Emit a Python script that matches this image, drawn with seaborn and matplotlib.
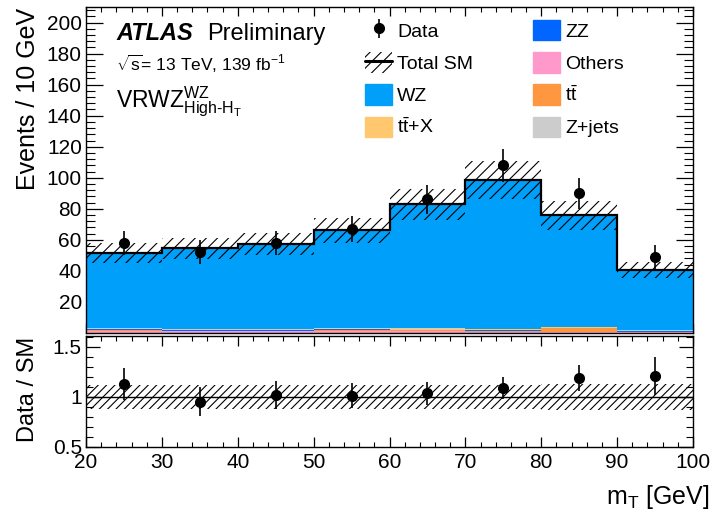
import numpy as np
import pandas as pd
import matplotlib
matplotlib.use("Agg")
import matplotlib.pyplot as plt
import seaborn as sns
from matplotlib.patches import Patch
from matplotlib.lines import Line2D
from matplotlib.ticker import MultipleLocator, FixedLocator, FuncFormatter

# ---------------- data ----------------
bin_edges = [20, 30, 40, 50, 60, 70, 80, 90, 100]
wz = [48.3, 52.0, 54.7, 62.9, 79.9, 96.2, 71.9, 38.6]
zz = [0.6, 0.6, 0.5, 0.4, 0.4, 0.5, 0.3, 0.6]
others = [1.2, 1.0, 1.0, 1.2, 1.0, 0.8, 0.5, 0.5]
ttbar = [0.5, 0.2, 0.3, 0.8, 0.8, 0.5, 2.4, 0.3]
ttx = [0.3, 0.4, 0.4, 0.5, 0.5, 0.6, 0.4, 0.2]
zjets = [0.4, 0.3, 0.2, 0.3, 0.2, 0.2, 0.2, 0.2]
sm_unc = [6.4, 6.8, 7.1, 8.0, 10.0, 12.3, 9.5, 5.2]
data = [58, 52, 58, 67, 86, 108, 90, 49]
data_err = [8.0, 7.7, 8.0, 8.5, 9.6, 10.8, 9.9, 7.7]

x_ticks = [20, 30, 40, 50, 60, 70, 80, 90, 100]
y_ticks = [20, 40, 60, 80, 100, 120, 140, 160, 180, 200]
ratio_ticks = [0.5, 1.0, 1.5]

lab_ttbar = r"$\mathregular{t\bar{t}}$"
lab_ttx = r"$\mathregular{t\bar{t}}$+X"
colors = {
    "WZ": "#009ffa",
    "ZZ": "#0066ff",
    "Others": "#ff99cc",
    "ttbar": "#ff9640",
    "ttX": "#ffc86e",
    "Z+jets": "#cccccc",
}
# first level drawn on top of the stack in seaborn
stack_order = ["WZ", "Z+jets", "ttX", "ZZ", "ttbar", "Others"]
procs = {"WZ": wz, "Z+jets": zjets, "ttX": ttx, "ZZ": zz, "ttbar": ttbar, "Others": others}

edges = np.array(bin_edges, dtype=float)
centers = 0.5 * (edges[:-1] + edges[1:])
rows = []
for name, vals in procs.items():
    for c, v in zip(centers, vals):
        rows.append({"mT": float(c), "events": float(v), "process": name})
df = pd.DataFrame(rows)

total = np.sum([np.array(v) for v in procs.values()], axis=0)
unc = np.array(sm_unc)
dat = np.array(data, dtype=float)
derr = np.array(data_err)

# ---------------- style ----------------
sns.set_style("ticks")
plt.rcParams["font.family"] = ["Liberation Sans", "DejaVu Sans"]
plt.rcParams["mathtext.fontset"] = "custom"
plt.rcParams["mathtext.rm"] = "Liberation Sans"
plt.rcParams["mathtext.it"] = "Liberation Sans:italic"
plt.rcParams["mathtext.bf"] = "Liberation Sans:bold"
plt.rcParams["hatch.linewidth"] = 0.8
plt.rcParams["hatch.color"] = "black"
for k in ["text.color", "axes.labelcolor", "xtick.color", "ytick.color", "axes.edgecolor"]:
    plt.rcParams[k] = "black"

W, H = 720, 514
def fx(px):
    return px / W
def fy(py):
    return 1 - py / H

fig = plt.figure(figsize=(7.2, 5.14), dpi=100)
ax = fig.add_axes([fx(86), fy(333), fx(693) - fx(86), fy(7) - fy(333)])
ax2 = fig.add_axes([fx(86), fy(447), fx(693) - fx(86), fy(336) - fy(447)])

# ---------------- main panel ----------------
sns.histplot(data=df, x="mT", weights="events", hue="process", hue_order=stack_order,
             palette=colors, bins=list(bin_edges), multiple="stack", element="step", fill=True,
             alpha=1, linewidth=0, legend=False, ax=ax)
ax.stairs(total + unc, edges, baseline=total - unc, fill=True, facecolor="none",
          edgecolor="black", hatch="///", linewidth=0, zorder=3)
ax.stairs(total, edges, baseline=None, color="black", linewidth=1.6, zorder=4)
h_data = ax.errorbar(centers, dat, yerr=derr, fmt="o", color="black", ms=7,
                     elinewidth=1.2, capsize=0, zorder=5)

ax.set_xlim(20, 100)
ax.set_ylim(0, 210)
ax.set_xlabel("")
ax.set_ylabel("")
ax.xaxis.set_major_locator(FixedLocator(x_ticks))
ax.xaxis.set_minor_locator(MultipleLocator(2))
ax.yaxis.set_major_locator(FixedLocator(y_ticks))
ax.yaxis.set_minor_locator(MultipleLocator(4))
ax.tick_params(which="both", direction="in", top=True, right=True)
ax.tick_params(axis="y", which="major", length=12, width=0.9, labelsize=15, pad=3)
ax.tick_params(axis="y", which="minor", length=6.3, width=0.8)
ax.tick_params(axis="x", which="major", length=6.5, width=0.9, labelbottom=False)
ax.tick_params(axis="x", which="minor", length=3.3, width=0.8)

# ---------------- ratio panel ----------------
rel = unc / total
ax2.stairs(1 + rel, edges, baseline=1 - rel, fill=True, facecolor="none",
           edgecolor="black", hatch="////", linewidth=0, zorder=2)
ax2.axhline(1.0, color="black", linewidth=1.0, zorder=3)
ax2.errorbar(centers, dat / total, yerr=derr / total, fmt="o", color="black", ms=7,
             elinewidth=1.2, capsize=0, zorder=5)
ax2.set_xlim(20, 100)
ax2.set_ylim(0.5, 1.61)
ax2.xaxis.set_major_locator(FixedLocator(x_ticks))
ax2.xaxis.set_minor_locator(MultipleLocator(2))
ax2.yaxis.set_major_locator(FixedLocator(ratio_ticks))
ax2.yaxis.set_minor_locator(MultipleLocator(0.1))
ax2.yaxis.set_major_formatter(FuncFormatter(lambda v, p: "%g" % v))
ax2.tick_params(which="both", direction="in", top=True, right=True)
ax2.tick_params(axis="y", which="major", length=10, width=0.9, labelsize=15, pad=3)
ax2.tick_params(axis="y", which="minor", length=5, width=0.8)
ax2.tick_params(axis="x", which="major", length=7, width=0.9, labelsize=15, pad=4)
ax2.tick_params(axis="x", which="minor", length=3.5, width=0.8)

for a in (ax, ax2):
    for s in a.spines.values():
        s.set_linewidth(1.0)
        s.set_color("black")

# ---------------- labels ----------------
fig.text(fx(28), fy(8), "Events / 10 GeV", rotation=90, ha="center", va="top", fontsize=18)
fig.text(fx(28), fy(389), "Data / SM", rotation=90, ha="center", va="center", fontsize=17)
fig.text(fx(710), fy(497), r"m$_\mathregular{T}$ [GeV]", ha="right", va="center", fontsize=18)

fig.text(fx(116), fy(40), "ATLAS", fontsize=17, fontweight="bold", fontstyle="italic", va="baseline")
fig.text(fx(207), fy(40), "Preliminary", fontsize=17, va="baseline")
fig.text(fx(116), fy(71), r"$\sqrt{\mathregular{s}}$= 13 TeV, 139 fb$^{\mathregular{-1}}$",
         fontsize=12.5, va="baseline")
fig.text(fx(116), fy(107), r"VRWZ$^{\mathregular{WZ}}_{\mathregular{High‐H_{T}}}$",
         fontsize=16.5, va="baseline")

# ---------------- legend ----------------
fs_leg = 14
em = fs_leg * 100 / 72
band_patch = Patch(facecolor="none", edgecolor="black", hatch="///", linewidth=0)
tot_line = Line2D([], [], color="black", lw=2.2)
common = dict(loc="upper left", bbox_transform=fig.transFigure, frameon=False,
              fontsize=fs_leg, handlelength=27 / em, handleheight=24 / em,
              labelspacing=11.5 / em, handletextpad=5 / em, borderpad=0, borderaxespad=0)
leg1 = ax.legend([h_data, (band_patch, tot_line), Patch(color=colors["WZ"]), Patch(color=colors["ttX"])],
                 ["Data", "Total SM", "WZ", lab_ttx], bbox_to_anchor=(fx(365), fy(20)), **common)
ax.add_artist(leg1)
leg2 = ax.legend([Patch(color=colors["ZZ"]), Patch(color=colors["Others"]),
                  Patch(color=colors["ttbar"]), Patch(color=colors["Z+jets"])],
                 ["ZZ", "Others", lab_ttbar, "Z+jets"], bbox_to_anchor=(fx(533), fy(20)), **common)

fig.savefig("out.png", dpi=100)
